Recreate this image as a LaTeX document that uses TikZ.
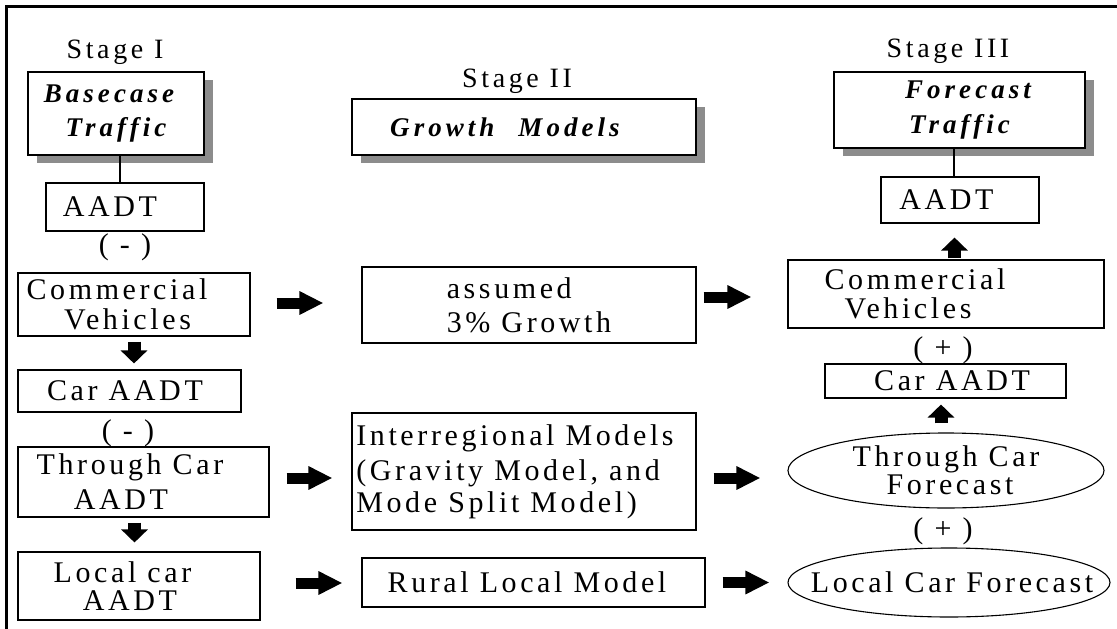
\documentclass[tikz,border=0pt]{standalone}
\usepackage{fontspec}
\setmainfont{Liberation Serif}[LetterSpace=12]
\newfontfamily\bifont{Liberation Serif}[LetterSpace=15]
\newfontfamily\stagefont{Liberation Serif}[LetterSpace=13]
\usetikzlibrary{arrows.meta,shapes.geometric,shadows}
\definecolor{shadowgray}{RGB}{140,140,140}
\lineskiplimit=-50pt\relax
\begin{document}
\begin{tikzpicture}[x=1pt,y=-1pt,
  reg/.style={font=\fontsize{30}{29}\selectfont},
  bi/.style={font=\bifont\bfseries\itshape\fontsize{27}{34}\selectfont},
  box/.style={draw,line width=1.1pt,rectangle,inner sep=0pt,align=center,reg},
  sbox/.style={box,bi,fill=white,general shadow={fill=shadowgray,shadow xshift=9pt,shadow yshift=-8pt}},
  oval/.style={draw,line width=1.1pt,ellipse,inner sep=0pt},
  txt/.style={reg,inner sep=0pt,align=center},
  stagetxt/.style={font=\stagefont\fontsize{28}{29}\selectfont,inner sep=0pt,anchor=base},
  rarrow/.style={line width=11pt,-{Triangle[length=24pt,width=22pt]}},
  varrow/.style={line width=13pt,-{Triangle[length=13pt,width=26pt]}},
  link/.style={line width=1.1pt}]

\useasboundingbox (0,0) rectangle (1117,629);
\draw[line width=3pt] (6.5,629) -- (6.5,6.5) -- (1117,6.5);

% Stage I
\node[stagetxt] (s1) at (115,58) {Stage I};
\node[sbox,minimum width=176pt,minimum height=83pt] (base) at (116,113.5) {Basecase\hspace*{14pt}\\Traffic};
\node[box,minimum width=158pt,minimum height=48pt] (a1) at (125,207) {AADT\hspace*{30pt}};
\node[txt] (m1) at (125,247) {( - )};
\node[box,minimum width=232pt,minimum height=63pt] (cv1) at (134,304.5) {Commercial\hspace*{34pt}\\[1pt]Vehicles\hspace*{13pt}};
\node[box,minimum width=223pt,minimum height=42pt] (car1) at (129.5,391) {Car AADT\hspace*{9pt}};
\node[txt] (m2) at (128,433) {( - )};
\node[box,minimum width=251pt,minimum height=70pt] (th1) at (143.5,482) {Through Car\hspace*{27pt}\\[6pt]AADT\hspace*{45pt}};
\node[box,minimum width=242pt,minimum height=68pt] (lc1) at (139,586) {Local car\hspace*{33pt}\\[-1pt]AADT\hspace*{18pt}};

% Stage II
\node[stagetxt] (s2) at (517,87) {Stage II};
\node[sbox,minimum width=344pt,minimum height=56pt] (gm) at (524,127) {Growth\hspace{24pt}Models\hspace*{38pt}};
\node[box,minimum width=334pt,minimum height=76pt,align=left] (as) at (529,305) {assumed\\[5pt]3\% Growth};
\node[box,minimum width=344pt,minimum height=117pt,align=left] (ir) at (524,471.5) {Interregional Models\hspace*{18pt}\\[6pt](Gravity Model, and\\[3pt]Mode Split Model)};
\node[box,minimum width=343pt,minimum height=49pt] (rl) at (533.5,582.5) {Rural Local Model\hspace*{13pt}};

% Stage III
\node[stagetxt] (s3) at (948,57) {Stage III};
\node[sbox,minimum width=251pt,minimum height=76pt] (fc) at (959.5,110) {\hspace*{17pt}Forecast\\[1pt]Traffic};
\node[box,minimum width=158pt,minimum height=46pt] (a3) at (960,200) {AADT\hspace*{27pt}};
\node[box,minimum width=316pt,minimum height=68pt] (cv3) at (946,294) {Commercial\hspace*{62pt}\\Vehicles\hspace*{76pt}};
\node[txt] (p1) at (943,350) {( + )};
\node[box,minimum width=241pt,minimum height=34pt] (car3) at (945.5,381) {\hspace*{13pt}Car AADT};
\node[oval,minimum width=316pt,minimum height=75pt] (th3) at (946,470.5) {};
\node[txt] (th3t) at (th3) {Through Car\\[-1pt]\hspace*{8pt}Forecast};
\node[txt] (p2) at (943,531) {( + )};
\node[oval,minimum width=322pt,minimum height=69pt] (lc3) at (949,582.5) {};
\node[txt] (lc3t) at ([xshift=3pt]lc3.center) {Local Car Forecast};

% thin links
\draw[link] ([xshift=4pt]base.south) -- ([xshift=4pt]base.south |- a1.north);
\draw[link] ([xshift=-5.5pt]fc.south) -- ([xshift=-5.5pt]fc.south |- a3.north);

% horizontal block arrows
\draw[rarrow,shorten <=26pt,shorten >=38pt] ([yshift=1.5pt]cv1.east) -- ([yshift=1.5pt]cv1.east -| as.west);
\draw[rarrow,shorten <=7pt,shorten >=36pt] ([yshift=8pt]as.east) -- ([yshift=8pt]as.east -| cv3.west);
\draw[rarrow,shorten <=17pt,shorten >=19pt] ([yshift=4pt]th1.east) -- ([yshift=4pt]th1.east -| ir.west);
\draw[rarrow,shorten <=17pt,shorten >=27pt] ([yshift=-6.5pt]ir.east) -- ([yshift=-6.5pt]ir.east -| th3.west);
\draw[rarrow,shorten <=35pt,shorten >=19pt] ([yshift=3pt]lc1.east) -- ([yshift=3pt]lc1.east -| rl.west);
\draw[rarrow,shorten <=17pt,shorten >=18pt] (rl.east) -- (rl.east -| lc3.west);

% vertical block arrows
\draw[varrow,shorten <=5pt,shorten >=6pt] (cv1.south) -- (cv1.south |- car1.north);
\draw[varrow,shorten <=5pt,shorten >=9pt] ([xshift=-9pt]th1.south) -- ([xshift=-9pt]th1.south |- lc1.north);
\draw[varrow,shorten <=1pt,shorten >=14pt] ([xshift=8.5pt]cv3.north) -- ([xshift=8.5pt]cv3.north |- a3.south);
\draw[varrow,shorten <=9pt,shorten >=6pt] ([xshift=-5pt]th3.north) -- ([xshift=-5pt]th3.north |- car3.south);
\end{tikzpicture}
\end{document}
